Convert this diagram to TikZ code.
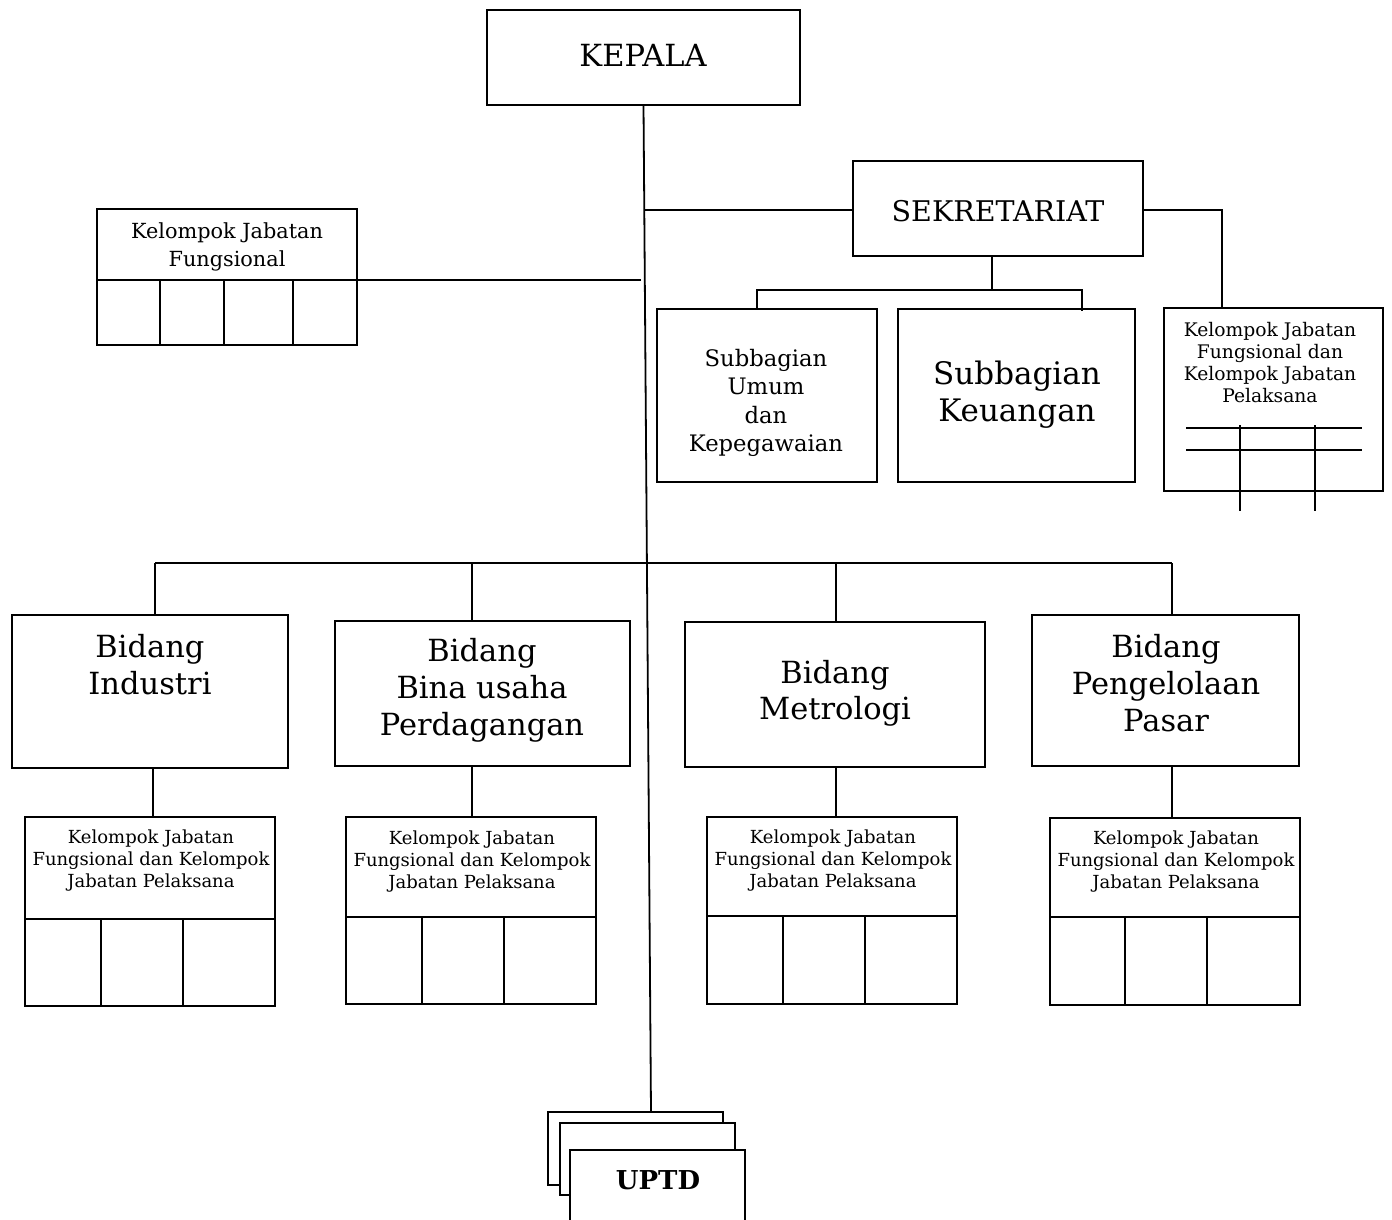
\documentclass[tikz,border=0pt]{standalone}
\usepackage{fontspec}
\setmainfont{DejaVu Serif}
\newcommand\fs[2]{\fontsize{#1}{#2}\selectfont}
\newcommand\Bx[6][]{\node[box,#1,minimum width={(#5-#3)*1pt},minimum height={(#6-#4)*1pt}] (#2) at ({(#3+#5)/2},{-(#4+#6)/2}) {};}
\begin{document}
\begin{tikzpicture}[x=1pt,y=1pt,line width=1.8pt,
  box/.style={draw,line width=1.8pt,inner sep=0pt,outer sep=0pt,fill=white},
  lbl/.style={align=center,inner sep=0pt}]
\useasboundingbox (0,0) rectangle (1392,-1219);
% main boxes
\Bx{kepala}{487}{10}{800}{105}
\Bx{sekr}{853}{161}{1143}{256}
\Bx{kfl}{97}{209}{357}{345}
\Bx{kfr}{1164}{308}{1383}{491}
\Bx{sbu}{657}{309}{877}{482}
\Bx{sbk}{898}{309}{1135}{482}
\Bx{b1}{12}{615}{288}{768}
\Bx{b2}{335}{621}{630}{766}
\Bx{b3}{685}{622}{985}{767}
\Bx{b4}{1032}{615}{1299}{766}
\Bx{k1}{25}{817}{275}{1006}
\Bx{k2}{346}{817}{596}{1004}
\Bx{k3}{707}{817}{957}{1004}
\Bx{k4}{1050}{818}{1300}{1005}
% texts
\node[lbl,font=\fs{30.5}{36}] (tkep) at (643,-55) {KEPALA};
\node[lbl,font=\fs{28.5}{34}] (tsek) at (998,-211) {SEKRETARIAT};
\node[lbl,font=\fs{20.8}{28}] (tkfl) at (227,-247) {Kelompok Jabatan\\Fungsional};
\node[lbl,font=\fs{18.7}{22}] (tkfr) at (1270,-363) {Kelompok Jabatan\\Fungsional dan\\Kelompok Jabatan\\Pelaksana};
\node[lbl,font=\fs{22.7}{28.5}] (tsbu) at (766,-403) {Subbagian\\Umum\\ dan\\Kepegawaian};
\node[lbl,font=\fs{31}{37}] (tsbk) at (1017,-395) {Subbagian\\Keuangan};
\node[lbl,font=\fs{30.5}{37}] (tb1) at (150,-665) {Bidang\\Industri};
\node[lbl,font=\fs{30.5}{37}] (tb2) at (482,-690) {Bidang\\Bina usaha\\Perdagangan};
\node[lbl,font=\fs{30.5}{36}] (tb3) at (835,-693) {Bidang\\Metrologi};
\node[lbl,font=\fs{30.5}{37}] (tb4) at (1166,-683) {Bidang\\Pengelolaan\\Pasar};
\foreach \k/\x/\y in {k1/151/861,k2/472/862,k3/833/861,k4/1176/862}
  \node[lbl,font=\fs{18}{22}] (t\k) at (\x,-\y) {Kelompok Jabatan\\Fungsional dan Kelompok\\Jabatan Pelaksana};
% UPTD stack
\Bx{uA}{548}{1112}{723}{1185}
\Bx{uB}{560}{1123}{735}{1195}
\Bx{uC}{570}{1150}{745}{1240}
\node[lbl,font=\fs{26}{30}\bfseries] (tup) at (658,-1180) {UPTD};
% junction coordinates
\coordinate (jbot) at (651,-1112);
\coordinate (js) at (645,-210);
\coordinate (jk) at (641,-280);
\coordinate (kflR) at (357,-280);
\coordinate (sr1) at (1222,-210);
\coordinate (ss) at (992,-290);
\coordinate (ssL) at (757,-290);
\coordinate (ssR) at (1082,-290);
\coordinate (bus1) at (155,-563);
\coordinate (bus2) at (472,-563);
\coordinate (bus3) at (836,-563);
\coordinate (bus4) at (1172,-563);
% connectors
\draw (kepala.south) -- (jbot);
\draw (js) -- (sekr.west |- js);
\draw (kflR) -- (jk);
\draw (sekr.east |- sr1) -- (sr1) -- (kfr.north -| sr1);
\draw (sekr.south -| ss) -- (ss);
\draw (ssL |- sbu.north) -- (ssL) -- (ssR) -- ([yshift=-2pt]ssR |- sbk.north);
\draw (bus1) -- (bus4);
\draw (bus1) -- (b1.north -| bus1);
\draw (bus2) -- (b2.north -| bus2);
\draw (bus3) -- (b3.north -| bus3);
\draw (bus4) -- (b4.north -| bus4);
\draw (b1.south -| 153,0) -- (k1.north -| 153,0);
\draw (b2.south -| 472,0) -- (k2.north -| 472,0);
\draw (b3.south -| 836,0) -- (k3.north -| 836,0);
\draw (b4.south -| 1172,0) -- (k4.north -| 1172,0);
% internal grids
\draw (kfl.west |- 0,-280) -- (kfl.east |- 0,-280);
\foreach \x in {160,224,293} \draw (\x,-280) -- (kfl.south -| \x,0);
\draw (1186,-428) -- (1362,-428);
\draw (1186,-450) -- (1362,-450);
\foreach \x in {1240,1315} \draw (\x,-425) -- (\x,-511);
\foreach \k/\d/\a/\b in {k1/919/101/183,k2/917/422/504,k3/916/783/865,k4/917/1125/1207}{
  \draw (\k.west |- 0,-\d) -- (\k.east |- 0,-\d);
  \draw (\a,-\d) -- (\k.south -| \a,0);
  \draw (\b,-\d) -- (\k.south -| \b,0);
}
\end{tikzpicture}
\end{document}
